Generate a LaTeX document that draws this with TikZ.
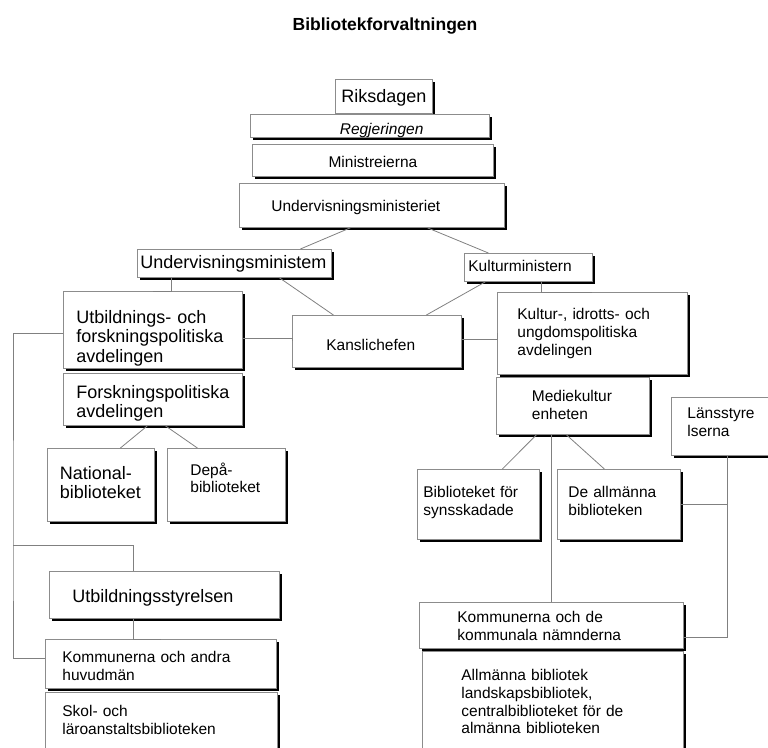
\documentclass[tikz,border=0pt]{standalone}
\usepackage{fontspec}
\setmainfont{Liberation Sans}
\usetikzlibrary{shadows}

\newcommand{\litenfont}{\fontsize{15.5}{17.8}\selectfont}
\newcommand{\storfont}{\fontsize{18}{19.5}\selectfont}

\definecolor{ramgra}{gray}{0.55}
\definecolor{linjegra}{gray}{0.5}

\tikzset{
  boks/.style={rectangle, draw=ramgra, line width=0.8pt, fill=white, anchor=north west,
    align=left, inner ysep=0pt, font=\litenfont,
    drop shadow={shadow xshift=3pt, shadow yshift=-3pt, fill=black, opacity=1}},
  linje/.style={draw=linjegra, line width=0.8pt}
}

\begin{document}
\begin{tikzpicture}[x=1pt, y=-1pt]
  \useasboundingbox (0,0) rectangle (768,747);
  \clip (0,0) rectangle (768,747);

  \node[font=\fontsize{17.5}{21}\selectfont\bfseries] (titel) at (385,26) {Bibliotekforvaltningen};

  \node[boks, font=\storfont, align=center, inner xsep=5pt, text width=87pt, minimum height=34pt, text height=15pt, text depth=3pt] (riks) at (335,79) {Riksdagen};
  \node[boks, font=\litenfont\itshape, align=right, inner xsep=66pt, text width=107pt, minimum height=23pt, text height=20pt, text depth=3pt] (regj) at (250,114) {Regjeringen};
  \node[boks, align=center, inner xsep=10pt, text width=221pt, minimum height=32pt, text height=17pt, text depth=3pt] (mini) at (252,144) {Ministreierna};
  \node[boks, inner xsep=32pt, text width=201pt, minimum height=44pt, text height=15pt, text depth=3pt] (udep) at (239,183) {Undervisningsministeriet};

  \node[boks, font=\storfont, inner xsep=3pt, text width=188pt, minimum height=28pt, text height=13pt, text depth=3pt] (umin) at (137,249) {Undervisningsministem};
  \node[boks, inner xsep=4pt, text width=120pt, minimum height=28pt, text height=11pt, text depth=3pt] (kmin) at (464,253) {Kulturministern};
  \node[boks, inner xsep=34pt, text width=101pt, minimum height=52pt, text height=21pt, text depth=3pt] (kansli) at (292,315) {Kanslichefen};

  \node[boks, font=\storfont, inner xsep=13pt, text width=153pt, minimum height=77pt, text height=29pt, text depth=42pt] (ufpa) at (63,291) {Utbildnings- och\\forskningspolitiska\\avdelingen};
  \node[boks, font=\storfont, inner xsep=13pt, text width=153pt, minimum height=52pt, text height=20.5pt, text depth=22.5pt] (fpa) at (63,373) {Forskningspolitiska\\avdelingen};
  \node[boks, font=\storfont, inner xsep=12.5pt, text width=82pt, minimum height=73pt, text height=11.5pt, text depth=22.5pt] (natl) at (47,448) {National-\\biblioteket};
  \node[boks, inner xsep=23pt, text width=72pt, minimum height=73pt, text height=1pt, text depth=20.8pt] (depa) at (167,448) {Depå-\\biblioteket};
  \node[boks, font=\storfont, inner xsep=23pt, text width=184pt, minimum height=47pt, text height=18pt, text depth=3pt] (ustyr) at (49,571) {Utbildningsstyrelsen};
  \node[boks, inner xsep=17pt, text width=197pt, minimum height=49pt, text height=17.8pt, text depth=20.8pt] (kandra) at (45,639) {Kommunerna och andra\\huvudmän};
  \node[boks, inner xsep=17pt, text width=198pt, minimum height=58pt, text height=10.8pt, text depth=20.8pt] (skol) at (45,692) {Skol- och\\läroanstaltsbiblioteken};

  \node[boks, inner xsep=20pt, text width=150pt, minimum height=82pt, text height=10.6pt, text depth=38.6pt] (kupa) at (497,292) {Kultur-, idrotts- och\\ungdomspolitiska\\avdelingen};
  \node[boks, inner xsep=35.5pt, text width=82pt, minimum height=57pt, text height=11.8pt, text depth=20.8pt] (medie) at (496,377) {Mediekultur\\enheten};
  \node[boks, inner xsep=16pt, text width=80pt, minimum height=58pt, text height=4.8pt, text depth=20.8pt] (lans) at (671,397) {Länsstyre\\lserna};
  \node[boks, inner xsep=6pt, text width=110pt, minimum height=70pt, text height=6.8pt, text depth=20.8pt] (bsyn) at (417,469) {Biblioteket för\\synsskadade};
  \node[boks, inner xsep=11pt, text width=101pt, minimum height=70pt, text height=6.8pt, text depth=20.8pt] (dall) at (557,469) {De allmänna\\biblioteken};
  \node[boks, inner xsep=38pt, text width=188pt, minimum height=46pt, text height=14.8pt, text depth=20.8pt] (kkom) at (419,602) {Kommunerna och de\\kommunala nämnderna};
  \node[boks, inner xsep=39pt, text width=183pt, minimum height=105pt, text height=9.4pt, text depth=56.4pt] (allm) at (422,651) {Allmänna bibliotek\\landskapsbibliotek,\\centralbiblioteket för de\\almänna biblioteken};

  \draw[linje] ([xshift=-21.5pt]udep.south) -- ([xshift=66pt]umin.north);
  \draw[linje] ([xshift=55.5pt]udep.south) -- ([xshift=-40pt]kmin.north);
  \draw[linje] ([xshift=45pt]umin.south) -- ([xshift=-43.5pt]kansli.north);
  \draw[linje] ([xshift=-43pt]kmin.south) -- ([xshift=49.5pt]kansli.north);
  \draw[linje] ([xshift=-63pt]umin.south) |- (ufpa.north);
  \draw[linje] ([xshift=13pt]kmin.south) |- (kupa.north);
  \draw[linje] ([yshift=-8.5pt]ufpa.east) -| (kansli.west);
  \draw[linje] ([yshift=2pt]kansli.east) -| (kupa.west);

  \draw[linje] ([xshift=-5.5pt]fpa.south) -- ([xshift=19.5pt]natl.north);
  \draw[linje] ([xshift=12.5pt]fpa.south) -- ([xshift=-29pt]depa.north);
  \coordinate (knekk) at (13,545);
  \draw[linje] ([yshift=-3.5pt]ufpa.west) -| (knekk) |- ([yshift=5.5pt]kandra.west);
  \draw[linje] (knekk) -| ([xshift=-31pt]ustyr.north);
  \draw[linje] ([xshift=-31pt]ustyr.south) |- (kandra.north);

  \draw[linje] ([xshift=-36.5pt]medie.south) -- ([xshift=24pt]bsyn.north);
  \draw[linje] ([xshift=-6.5pt]medie.south) -- ([xshift=-14.5pt]dall.north);
  \draw[linje] (kkom.north) -- (kkom.north |- medie.south);
  \draw[linje] (dall.east) -- (dall.east -| lans.south);
  \draw[linje] (lans.south) |- ([yshift=-12pt]kkom.east);
\end{tikzpicture}
\end{document}
